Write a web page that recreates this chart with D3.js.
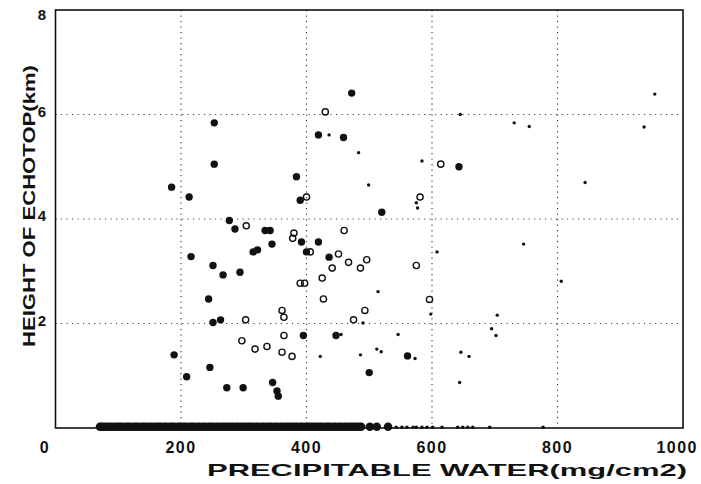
<!DOCTYPE html>
<html><head><meta charset="utf-8">
<script src="https://cdn.jsdelivr.net/npm/d3@7"></script>
<style>body{margin:0;background:#fff} svg{display:block}</style>
</head><body>
<svg id="c" width="701" height="484"></svg>
<script>
// ---- data ----
const xTicks = [0, 200, 400, 600, 800, 1000];
const yTicks = [2, 4, 6, 8];
const xGrid = [200, 400, 600, 800];
const yGrid = [2, 4, 6];

// filled circles
const filledX = [253,419,459,472,253,384,185,213,390,277,286,334,342,392,419,345,315,322,216,400,436,251,267,294,244,263,251,395,447,189,246,209,273,299,346,353,355,643,520,561,500];
const filledY = [5.84,5.61,5.56,6.41,5.05,4.81,4.61,4.42,4.36,3.97,3.81,3.78,3.78,3.56,3.56,3.52,3.37,3.41,3.28,3.37,3.27,3.11,2.93,2.98,2.47,2.07,2.02,1.77,1.77,1.40,1.16,0.98,0.77,0.77,0.87,0.71,0.61,5.00,4.13,1.38,1.06];

// open circles
const openX = [430,400,304,380,378,460,406,451,467,441,425,390,397,427,361,364,303,364,297,318,337,361,377,486,496,575,614,581,596,493,475];
const openY = [6.05,4.42,3.87,3.73,3.63,3.78,3.37,3.33,3.17,3.06,2.87,2.77,2.77,2.47,2.25,2.12,2.07,1.77,1.67,1.51,1.56,1.45,1.37,3.06,3.22,3.11,5.05,4.42,2.46,2.25,2.07];

// small dots
const smallX = [436,455,422,645,731,755,483,584,499,575,577,746,608,514,598,704,490,695,702,546,512,519,486,573,646,659,644,955,938,844,806];
const smallY = [5.61,1.79,1.37,6.00,5.84,5.77,5.27,5.11,4.65,4.31,4.21,3.52,3.37,2.61,2.18,2.16,2.01,1.90,1.77,1.79,1.51,1.46,1.40,1.33,1.45,1.37,0.87,6.39,5.76,4.70,2.81];

// echotop height 0 (points lying on the axis)
const zeroFilledX = [71,74,78,82,86,90,95,99,103,107,112,116,120,125,129,133,138,142,146,151,155,160,164,168,173,177,182,186,190,195,199,204,208,213,217,221,226,230,235,239,244,248,252,257,261,266,270,275,279,283,288,292,297,301,306,310,314,319,323,328,332,337,341,345,350,354,359,363,368,372,376,381,385,390,394,399,403,407,412,416,421,425,430,434,438,443,447,452,456,461,465,470,474,478,483,487,501,512,530];
const zeroSmallX = [543,552,560,570,575,584,592,601,616,641,649,657,665,692,777];

// ---- chart ----
const svg = d3.select('#c');
const x = d3.scaleLinear().domain([0, 1000]).range([55.5, 683]);
const y = d3.scaleLinear().domain([0, 8]).range([428, 10]);
const font = '"Liberation Sans", Arial, Helvetica, sans-serif';

// gridlines
svg.append('g').selectAll('line').data(xGrid).join('line')
  .attr('x1', d => x(d)).attr('x2', d => x(d))
  .attr('y1', y(8)).attr('y2', y(0))
  .attr('stroke', '#444').attr('stroke-width', 1.2)
  .attr('stroke-dasharray', '1.2 4.3');
svg.append('g').selectAll('line').data(yGrid).join('line')
  .attr('x1', x(0)).attr('x2', x(1000))
  .attr('y1', d => y(d)).attr('y2', d => y(d))
  .attr('stroke', '#444').attr('stroke-width', 1.2)
  .attr('stroke-dasharray', '1.2 4.3');

// frame
svg.append('rect')
  .attr('x', x(0)).attr('y', y(8))
  .attr('width', x(1000) - x(0)).attr('height', y(0) - y(8))
  .attr('fill', 'none').attr('stroke', '#111').attr('stroke-width', 1.6);

// zero-height points
svg.append('g').selectAll('circle').data(zeroFilledX).join('circle')
  .attr('cx', d => x(d)).attr('cy', y(0) - 1.2).attr('r', 4.3).attr('fill', '#111');
svg.append('g').selectAll('circle').data(zeroSmallX).join('circle')
  .attr('cx', d => x(d)).attr('cy', y(0) - 0.8).attr('r', 1.8).attr('fill', '#111');

// filled circles
svg.append('g').selectAll('circle').data(filledX.map((v, i) => [v, filledY[i]])).join('circle')
  .attr('cx', d => x(d[0])).attr('cy', d => y(d[1])).attr('r', 3.7).attr('fill', '#111');

// open circles
svg.append('g').selectAll('circle').data(openX.map((v, i) => [v, openY[i]])).join('circle')
  .attr('cx', d => x(d[0])).attr('cy', d => y(d[1])).attr('r', 3.1)
  .attr('fill', 'none').attr('stroke', '#111').attr('stroke-width', 1.4);

// small dots
svg.append('g').selectAll('circle').data(smallX.map((v, i) => [v, smallY[i]])).join('circle')
  .attr('cx', d => x(d[0])).attr('cy', d => y(d[1])).attr('r', 1.7).attr('fill', '#111');

// x tick labels
svg.append('g').selectAll('text').data(xTicks).join('text')
  .attr('x', d => d === 0 ? 45 : d === 1000 ? 698 : x(d))
  .attr('y', 453)
  .attr('text-anchor', d => d === 1000 ? 'end' : 'middle')
  .attr('font-family', font).attr('font-weight', 'bold').attr('font-size', 16)
  .attr('letter-spacing', 1.5)
  .attr('fill', '#111')
  .text(d => d);

// y tick labels
svg.append('g').selectAll('text').data(yTicks).join('text')
  .attr('x', 42).attr('y', d => Math.max(y(d) + 2, 20))
  .attr('text-anchor', 'middle')
  .attr('font-family', font).attr('font-weight', 'bold').attr('font-size', 15)
  .attr('fill', '#111')
  .text(d => d);

// axis titles
svg.append('text')
  .attr('x', 207).attr('y', 476)
  .attr('textLength', 480).attr('lengthAdjust', 'spacingAndGlyphs')
  .attr('font-family', font).attr('font-weight', 'bold').attr('font-size', 17)
  .attr('fill', '#111')
  .text('PRECIPITABLE WATER(mg/cm2)');

svg.append('text')
  .attr('transform', 'translate(35,347) rotate(-90)')
  .attr('textLength', 282).attr('lengthAdjust', 'spacingAndGlyphs')
  .attr('font-family', font).attr('font-weight', 'bold').attr('font-size', 17)
  .attr('fill', '#111')
  .text('HEIGHT OF ECHOTOP(km)');
</script>
</body></html>
